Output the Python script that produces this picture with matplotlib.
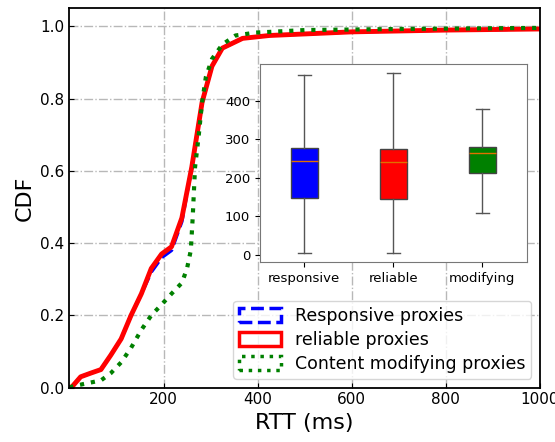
import matplotlib
matplotlib.use("Agg")
from matplotlib import pyplot as plt
from matplotlib.patches import Patch

# CDF curves (RTT in ms, cumulative fraction)
resp_x = [0, 6, 24, 45, 67, 88, 110, 131, 153, 174, 196, 217, 239, 260, 282, 303, 325, 368, 425, 600, 800, 1000]
resp_y = [0.0, 0.003, 0.03, 0.04, 0.05, 0.09, 0.135, 0.2, 0.26, 0.32, 0.36, 0.38, 0.46, 0.61, 0.79, 0.89, 0.94, 0.967, 0.975, 0.985, 0.99, 0.993]

rel_x = [0, 6, 24, 45, 67, 88, 110, 131, 153, 174, 196, 217, 239, 260, 282, 303, 325, 368, 425, 600, 800, 1000]
rel_y = [0.0, 0.003, 0.03, 0.04, 0.05, 0.09, 0.135, 0.2, 0.26, 0.33, 0.37, 0.39, 0.47, 0.61, 0.79, 0.89, 0.94, 0.967, 0.975, 0.985, 0.99, 0.993]

mod_x = [0, 6, 30, 67, 88, 110, 131, 153, 174, 196, 217, 239, 250, 258, 262, 267, 275, 282, 290, 303, 325, 353, 396, 500, 700, 1000]
mod_y = [0.0, 0.003, 0.01, 0.02, 0.04, 0.07, 0.11, 0.16, 0.2, 0.23, 0.26, 0.29, 0.33, 0.38, 0.47, 0.61, 0.70, 0.79, 0.86, 0.91, 0.95, 0.975, 0.983, 0.99, 0.993, 0.996]

# box plot stats for the inset (RTT ms)
box_labels = ['responsive', 'reliable', 'modifying']
box_low = [5, 5, 110]
box_q1 = [148, 145, 212]
box_med = [245, 242, 265]
box_q3 = [278, 276, 281]
box_high = [466, 472, 380]
box_colors = ['blue', 'red', 'green']

fig = plt.figure(figsize=(5.55, 4.42), dpi=100)
ax = fig.add_axes([0.125, 0.123, 0.848, 0.858])

# blue first so the red one sits on top of it
ax.plot(resp_x, resp_y, color='blue', lw=2.5, ls='--')
ax.plot(rel_x, rel_y, color='red', lw=3.5)
ax.plot(mod_x, mod_y, color='green', lw=3, ls=':')

ax.set_xlim(0, 1000)
ax.set_ylim(0, 1.05)
ax.set_xticks([200, 400, 600, 800, 1000])
ax.set_yticks([0.0, 0.2, 0.4, 0.6, 0.8, 1.0])
ax.tick_params(direction='in', labelsize=11)
ax.grid(True, ls='-.', color='#b8b8b8', lw=1)
ax.set_xlabel('RTT (ms)', fontsize=16)
ax.set_ylabel('CDF', fontsize=16)
for s in ax.spines.values():
    s.set_linewidth(1.3)

# legend uses outline patches, like step histograms
handles = [Patch(fill=False, edgecolor='blue', ls='--', lw=2.5),
           Patch(fill=False, edgecolor='red', lw=2.5),
           Patch(fill=False, edgecolor='green', ls=':', lw=2.5)]
ax.legend(handles, ['Responsive proxies', 'reliable proxies', 'Content modifying proxies'],
          loc='lower right', fontsize=12.5, handlelength=2.4, handleheight=0.9,
          borderpad=0.35, labelspacing=0.35, handletextpad=0.8)

# inset box plot
ins = fig.add_axes([0.468, 0.407, 0.481, 0.448])
stats = []
for i in range(3):
    stats.append(dict(med=box_med[i], q1=box_q1[i], q3=box_q3[i],
                      whislo=box_low[i], whishi=box_high[i], fliers=[], label=box_labels[i]))
bp = ins.bxp(stats, patch_artist=True, showfliers=False,
             boxprops=dict(edgecolor='#444444', lw=1),
             whiskerprops=dict(color='#555555', lw=1),
             capprops=dict(color='#555555', lw=1),
             medianprops=dict(color='#e07000', lw=1))
for patch, c in zip(bp['boxes'], box_colors):
    patch.set_facecolor(c)
ins.set_yticks([0, 100, 200, 300, 400])
ins.tick_params(labelsize=9.5)
for s in ins.spines.values():
    s.set_color('#777777')

fig.savefig('out.png', dpi=100)
